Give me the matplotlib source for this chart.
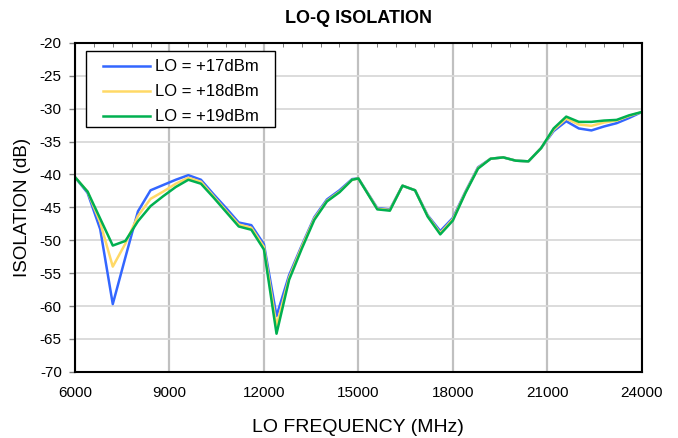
import matplotlib
matplotlib.use("Agg")
import matplotlib.pyplot as plt
from matplotlib.ticker import MultipleLocator
from matplotlib.patches import Rectangle

plt.rcParams["font.family"] = ["Liberation Sans", "DejaVu Sans"]
plt.rcParams["axes.unicode_minus"] = False

freq_mhz = [6000, 6400, 6800, 7200, 7600, 8000, 8400, 8800, 9200, 9600,
            10000, 10400, 10800, 11200, 11600, 12000, 12400, 12800, 13200, 13600,
            14000, 14400, 14800, 15000, 15600, 16000, 16400, 16800, 17200, 17600,
            18000, 18400, 18800, 19200, 19600, 20000, 20400, 20800, 21200, 21600,
            22000, 22400, 22800, 23200, 23600, 24000]

iso_17dbm = [-40.4, -42.8, -48.3, -59.7, -52.6, -45.6, -42.4, -41.6, -40.8, -40.1,
             -40.8, -43.0, -45.1, -47.3, -47.7, -50.6, -61.5, -55.3, -50.8, -46.5,
             -43.8, -42.4, -40.7, -40.6, -45.1, -45.3, -41.7, -42.4, -46.2, -48.6,
             -46.6, -42.6, -38.9, -37.6, -37.4, -37.9, -38.0, -36.0, -33.4, -31.9,
             -33.0, -33.3, -32.7, -32.2, -31.4, -30.5]

iso_18dbm = [-40.4, -42.6, -47.3, -54.0, -50.5, -46.3, -43.7, -42.6, -41.4, -40.5,
             -41.1, -43.3, -45.5, -47.6, -48.1, -51.0, -63.0, -55.7, -51.0, -46.7,
             -44.0, -42.6, -40.8, -40.6, -45.2, -45.4, -41.7, -42.4, -46.3, -48.9,
             -46.8, -42.7, -39.0, -37.6, -37.4, -37.9, -38.0, -36.0, -33.2, -31.5,
             -32.4, -32.6, -32.1, -31.8, -31.1, -30.5]

iso_19dbm = [-40.4, -42.6, -46.7, -50.8, -50.1, -47.1, -44.8, -43.3, -41.9, -40.8,
             -41.4, -43.5, -45.7, -47.9, -48.4, -51.4, -64.2, -56.0, -51.3, -46.9,
             -44.1, -42.7, -40.8, -40.6, -45.3, -45.5, -41.7, -42.4, -46.4, -49.1,
             -47.0, -42.8, -39.1, -37.6, -37.4, -37.9, -38.0, -36.0, -33.0, -31.2,
             -32.0, -32.0, -31.8, -31.7, -31.0, -30.5]


def main():
    fig = plt.figure(figsize=(6.78, 4.38), dpi=100)
    ax = fig.add_axes([0.1106, 0.151, 0.836, 0.751])

    ax.plot(freq_mhz, iso_17dbm, color="#3366FF", lw=1.8, label="LO = +17dBm")
    ax.plot(freq_mhz, iso_18dbm, color="#FFD966", lw=1.8, label="LO = +18dBm")
    ax.plot(freq_mhz, iso_19dbm, color="#00B050", lw=1.8, label="LO = +19dBm")

    ax.set_xlim(6000, 24000)
    ax.set_ylim(-70, -20)
    ax.xaxis.set_major_locator(MultipleLocator(3000))
    ax.xaxis.set_minor_locator(MultipleLocator(600))
    ax.yaxis.set_major_locator(MultipleLocator(5))

    ax.grid(axis="x", which="major", color="#c0c0c0", lw=1.6)
    ax.grid(axis="y", which="major", color="#d9d9d9", lw=1.3)
    ax.set_axisbelow(True)
    for s in ax.spines.values():
        s.set_linewidth(1.5)
        s.set_color("black")

    ax.tick_params(axis="x", which="major", length=0, labelsize=11, pad=10)
    ax.tick_params(axis="y", which="major", length=4.5, width=1, color="#808080",
                   labelsize=11, pad=5)
    ax.tick_params(axis="x", which="minor", top=True, bottom=False,
                   direction="in", length=3, width=0.6, color="#666666")

    ax.set_xlabel("LO FREQUENCY (MHz)", fontsize=14, labelpad=14)
    ax.set_ylabel("ISOLATION (dB)", fontsize=13.5, labelpad=6)
    ax.set_title("LO-Q ISOLATION", fontsize=13, fontweight="bold", pad=14)

    # legend frame drawn separately so the padding matches the original
    ax.add_patch(Rectangle((0.0194, 0.7447), 0.3333, 0.231, transform=ax.transAxes,
                           facecolor="white", edgecolor="black", lw=1.0, zorder=4))
    leg = ax.legend(loc="upper left", bbox_to_anchor=(0.0494, 0.950), fontsize=12,
                    frameon=False, handlelength=2.8, borderpad=0, labelspacing=0.6,
                    handletextpad=0.3, borderaxespad=0)
    leg.set_zorder(5)

    fig.savefig("out.png", dpi=100)


if __name__ == "__main__":
    main()
